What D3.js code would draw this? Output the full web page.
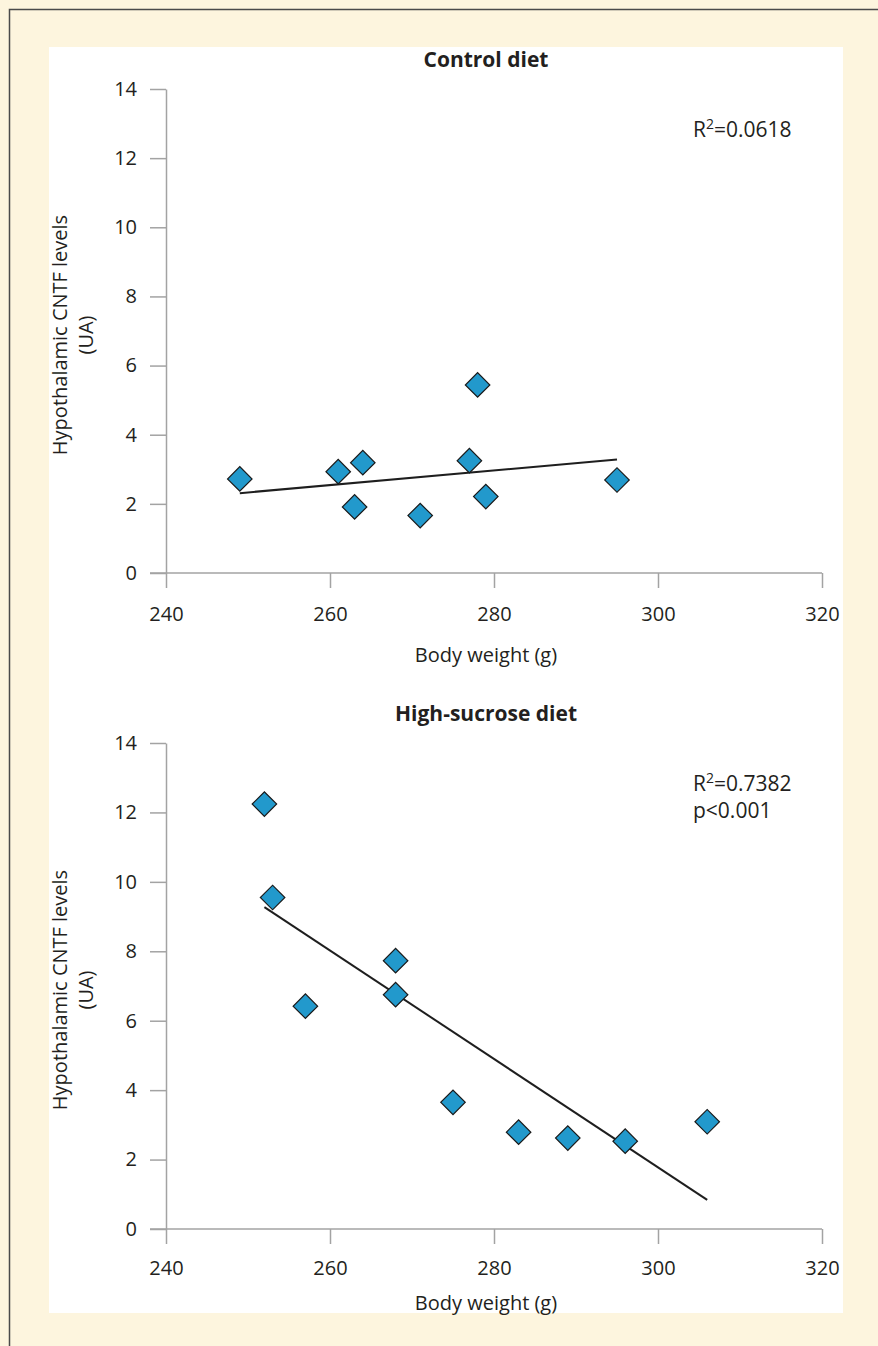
<!DOCTYPE html>
<html>
<head>
<meta charset="utf-8">
<script src="https://cdn.jsdelivr.net/npm/d3@7"></script>
<style>
  body { margin: 0; background: #fdf5de; }
  svg { display: block; font-family: "Open Sans", sans-serif; }
</style>
</head>
<body>
<div id="chart"></div>
<script>
// tick labels
const weightTicks = [240, 260, 280, 300, 320];
const cntfTicks = [0, 2, 4, 6, 8, 10, 12, 14];

// control diet: body weight (g) vs hypothalamic CNTF (UA)
const controlWeight = [249, 261, 263, 264, 271, 277, 278, 279, 295];
const controlCNTF = [2.72, 2.93, 1.91, 3.19, 1.66, 3.25, 5.44, 2.21, 2.69];
const controlTrend = [[249, 2.31], [295, 3.28]];
const controlStats = ["=0.0618"];

// high-sucrose diet
const sucroseWeight = [252, 253, 257, 268, 268, 275, 283, 289, 296, 306];
const sucroseCNTF = [12.24, 9.55, 6.42, 7.73, 6.75, 3.65, 2.79, 2.62, 2.53, 3.09];
const sucroseTrend = [[252, 9.27], [306, 0.84]];
const sucroseStats = ["=0.7382", "p<0.001"];

class ScatterPanelD3 {
    axisColor = "#a3a3a3";
    pointFill = "#2299cc";

    constructor(svg, layout){
        this.svg = svg;
        this.layout = layout;
    }

    render = function (title, xs, ys, trend, stats){
        const L = this.layout;
        const g = this.svg.append("g").attr("class", "panelG");

        const x = d3.scaleLinear().domain([240, 320]).range([166, 822]);
        const y = d3.scaleLinear().domain([0, 14]).range([L.bottom, L.top]);

        // x axis, line extends left to meet the y tick at 0
        const xAxis = g.append("g")
            .attr("transform", `translate(0,${L.bottom})`)
            .call(d3.axisBottom(x).tickValues(weightTicks).tickSize(15).tickSizeOuter(0).tickPadding(L.xPad));
        xAxis.select(".domain").attr("d", `M150,0H${x(320)}`);

        const yAxis = g.append("g")
            .attr("transform", `translate(${x(240)},0)`)
            .call(d3.axisLeft(y).tickValues(cntfTicks).tickSize(16).tickSizeOuter(0).tickPadding(13));

        g.selectAll(".domain, .tick line")
            .attr("stroke", this.axisColor)
            .attr("stroke-width", 1.5);
        g.selectAll(".tick text")
            .attr("fill", "#231f20")
            .attr("font-size", 20)
            .attr("font-family", "Open Sans");

        // title
        g.append("text")
            .attr("x", 486).attr("y", L.top - 22)
            .attr("text-anchor", "middle")
            .attr("font-size", 21).attr("font-weight", "bold")
            .attr("fill", "#231f20")
            .text(title);

        // axis titles
        g.append("text")
            .attr("x", 486).attr("y", L.bottom + L.xTitle)
            .attr("text-anchor", "middle")
            .attr("font-size", 20).attr("fill", "#231f20")
            .text("Body weight (g)");

        const yl = g.append("g")
            .attr("transform", `translate(67,${(L.top + L.bottom) / 2 + 4}) rotate(-90)`)
            .attr("font-size", 20).attr("fill", "#231f20")
            .attr("text-anchor", "middle");
        yl.append("text").attr("y", 0).text("Hypothalamic CNTF levels");
        yl.append("text").attr("y", 26).text("(UA)");

        // stats
        const st = g.append("text")
            .attr("x", 693).attr("y", L.top + 48)
            .attr("font-size", 21).attr("fill", "#231f20");
        st.append("tspan").text("R");
        st.append("tspan").attr("dy", -8).attr("font-size", 14).text("2");
        st.append("tspan").attr("dy", 8).text(stats[0]);
        if (stats.length > 1) {
            g.append("text")
                .attr("x", 693).attr("y", L.top + 75)
                .attr("font-size", 21).attr("fill", "#231f20")
                .text(stats[1]);
        }

        // trend line
        g.append("path")
            .attr("d", d3.line().x(d => x(d[0])).y(d => y(d[1]))(trend))
            .attr("fill", "none")
            .attr("stroke", "#1e1e1e")
            .attr("stroke-width", 2);

        // diamonds
        const diamond = d3.symbol(d3.symbolSquare, 300);
        g.selectAll(".dotG")
            .data(d3.zip(xs, ys))
            .join("path")
            .attr("class", "dotG")
            .attr("d", diamond)
            .attr("transform", d => `translate(${x(d[0])},${y(d[1])}) rotate(45)`)
            .attr("fill", this.pointFill)
            .attr("stroke", "#1a1a1a")
            .attr("stroke-width", 1.2);
    }
}

const width = 878, height = 1346;
const svg = d3.select("#chart").append("svg")
    .attr("width", width)
    .attr("height", height);

svg.append("rect").attr("width", width).attr("height", height).attr("fill", "#fdf5de");
svg.append("rect")
    .attr("x", 49).attr("y", 47)
    .attr("width", 794).attr("height", 1266)
    .attr("fill", "#ffffff");
// frame: top and left rules
svg.append("path")
    .attr("d", `M9.5,${height}V9.5H${width}`)
    .attr("fill", "none")
    .attr("stroke", "#4a4a4a")
    .attr("stroke-width", 1.5);

new ScatterPanelD3(svg, {top: 89, bottom: 573, xPad: 19, xTitle: 89})
    .render("Control diet", controlWeight, controlCNTF, controlTrend, controlStats);
new ScatterPanelD3(svg, {top: 743, bottom: 1229, xPad: 17, xTitle: 81})
    .render("High-sucrose diet", sucroseWeight, sucroseCNTF, sucroseTrend, sucroseStats);
</script>
</body>
</html>
